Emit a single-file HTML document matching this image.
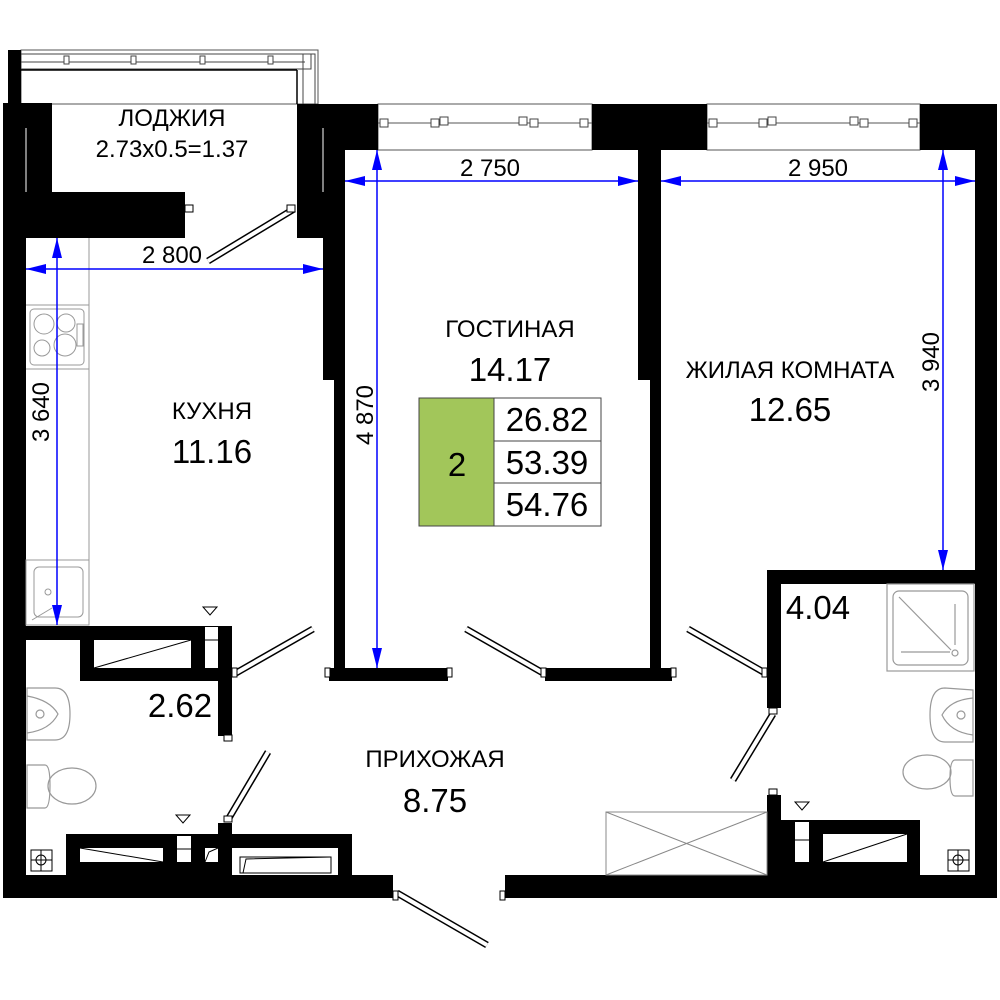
<!DOCTYPE html>
<html><head><meta charset="utf-8"><style>
html,body{margin:0;padding:0;background:#fff;}
svg{display:block;}
text{font-family:"Liberation Sans",sans-serif;fill:#000;}
</style></head><body>
<svg width="1000" height="1000" viewBox="0 0 1000 1000" xmlns="http://www.w3.org/2000/svg">
<defs>
<marker id="ar" viewBox="0 0 20 10" refX="20" refY="5" markerWidth="20" markerHeight="10" markerUnits="userSpaceOnUse" orient="auto-start-reverse"><path d="M0,0 L20,5 L0,10 z" fill="#0000ff"/></marker>
</defs>
<rect width="1000" height="1000" fill="#fff"/>

<!-- loggia frame -->
<rect x="21" y="50" width="297" height="54" fill="none" stroke="#555" stroke-width="1"/>
<rect x="21" y="54" width="290" height="15" fill="none" stroke="#444" stroke-width="1"/>
<line x1="21" y1="62" x2="305" y2="62" stroke="#444"/>
<rect x="303" y="54" width="12" height="50" fill="none" stroke="#444"/>
<line x1="21" y1="70" x2="297" y2="70" stroke="#000" stroke-width="1.5"/>
<line x1="297" y1="70" x2="297" y2="104" stroke="#000" stroke-width="1.5"/>
<g fill="#fff" stroke="#444"><rect x="64" y="56" width="5" height="8"/><rect x="131" y="56" width="5" height="8"/><rect x="200" y="56" width="5" height="8"/><rect x="268" y="56" width="5" height="8"/></g>
<rect x="8" y="50" width="13" height="54" fill="#000"/>

<!-- windows -->
<g stroke="#555" fill="none">
<rect x="378" y="104" width="214" height="46"/>
<rect x="707" y="104" width="213" height="46"/>
<line x1="378" y1="123" x2="592" y2="123"/>
<line x1="707" y1="123" x2="920" y2="123"/>
</g>
<g fill="#fff" stroke="#444">
<rect x="380" y="119" width="8" height="8"/><rect x="431" y="119" width="8" height="8"/><rect x="440" y="117" width="8" height="8"/><rect x="519" y="117" width="8" height="8"/><rect x="530" y="119" width="8" height="8"/><rect x="580" y="119" width="8" height="8"/>
<rect x="709" y="119" width="8" height="8"/><rect x="759" y="119" width="8" height="8"/><rect x="768" y="117" width="8" height="8"/><rect x="850" y="117" width="8" height="8"/><rect x="860" y="119" width="8" height="8"/><rect x="909" y="119" width="8" height="8"/>
</g>

<!-- walls -->
<g fill="#000">
<rect x="3" y="103" width="49" height="90"/>
<rect x="3" y="192" width="182" height="46"/>
<rect x="3" y="192" width="23" height="706"/>
<rect x="297" y="104" width="81" height="46"/>
<rect x="297" y="104" width="26" height="134"/>
<rect x="323" y="104" width="22" height="276"/>
<rect x="334" y="380" width="11" height="290"/>
<rect x="329" y="668" width="119" height="13"/>
<rect x="592" y="104" width="115" height="46"/>
<rect x="638" y="104" width="23" height="276"/>
<rect x="650" y="380" width="11" height="290"/>
<rect x="545" y="668" width="127" height="13"/>
<rect x="920" y="104" width="77" height="46"/>
<rect x="975" y="104" width="22" height="794"/>
<rect x="767" y="570" width="208" height="14"/>
<rect x="767" y="570" width="14" height="138"/>
<rect x="767" y="795" width="14" height="80"/>
<rect x="781" y="820" width="139" height="55"/>
<rect x="505" y="875" width="492" height="23"/>
<rect x="3" y="875" width="390" height="23"/>
<rect x="66" y="834" width="286" height="41"/>
<rect x="218" y="823" width="14" height="12"/>
<rect x="26" y="626" width="206" height="14"/>
<rect x="80" y="640" width="152" height="41"/>
<rect x="218" y="626" width="14" height="110"/>
</g>
<line x1="26" y1="128" x2="26" y2="192" stroke="#fff" stroke-width="1"/>
<line x1="323" y1="128" x2="323" y2="192" stroke="#fff" stroke-width="1"/>

<g fill="#fff">
<rect x="94" y="640" width="97" height="28"/>
<rect x="205" y="627" width="13" height="41"/>
<rect x="80" y="848" width="83" height="14"/>
<rect x="177" y="836" width="14" height="26"/>
<rect x="205" y="848" width="13" height="14"/>
<rect x="232" y="848" width="106" height="27"/>
<rect x="823" y="834" width="84" height="28"/>
<rect x="795" y="822" width="14" height="40"/>
</g>
<g stroke="#000" fill="none" stroke-width="1">
<line x1="94" y1="668" x2="191" y2="640"/>
<line x1="205" y1="640" x2="218" y2="640"/>
<line x1="80" y1="848" x2="163" y2="862"/>
<line x1="177" y1="849" x2="191" y2="849"/>
<path d="M205,862 L209,852 L218,848"/>
<rect x="240" y="857" width="91" height="16"/>
<path d="M243,873 L246,859 L331,857"/>
<line x1="823" y1="862" x2="907" y2="834"/>
<line x1="795" y1="840" x2="809" y2="840"/>
</g>

<!-- kitchen counter -->
<g stroke="#999" fill="none" stroke-width="1">
<line x1="89" y1="238" x2="89" y2="625"/>
<line x1="26" y1="305" x2="89" y2="305"/>
<line x1="26" y1="369" x2="89" y2="369"/>
<rect x="30" y="309" width="54" height="56" rx="4"/>
<circle cx="44" cy="324" r="10"/><circle cx="66" cy="323" r="9"/>
<circle cx="42" cy="348" r="8"/><circle cx="65" cy="345" r="11"/>
<rect x="77" y="324" width="6" height="22"/>
<rect x="26" y="560" width="63" height="65"/>
<rect x="34" y="567" width="49" height="50" rx="5"/>
<circle cx="48" cy="592" r="3"/>
<line x1="32" y1="620" x2="52" y2="608"/>
</g>

<!-- bathroom fixtures -->
<g stroke="#999" fill="none" stroke-width="1.2">
<rect x="887" y="584" width="87" height="87"/>
<rect x="893" y="591" width="75" height="74" rx="6"/>
<line x1="899" y1="597" x2="951" y2="650"/>
<line x1="901" y1="652" x2="950" y2="652"/>
<line x1="955" y1="604" x2="955" y2="645"/>
<circle cx="955" cy="653" r="3"/>
<path d="M973,690 L945,688 Q930,688 930,715 Q930,742 945,742 L973,742 Z"/>
<path d="M973,698 Q950,700 942,715 Q950,732 973,735"/>
<circle cx="961" cy="715" r="4"/>
<path d="M973,760 L955,760 Q950,760 950,778 Q950,796 955,796 L973,796 Z"/>
<ellipse cx="927" cy="772" rx="24" ry="17"/>
<path d="M27,688 L55,688 Q70,688 70,714 Q70,740 55,740 L27,740 Z"/>
<path d="M27,696 Q50,700 58,714 Q50,730 27,733"/>
<circle cx="40" cy="714" r="4"/>
<path d="M27,765 L45,765 Q50,765 50,785 Q50,808 45,808 L27,808 Z"/>
<ellipse cx="72" cy="786" rx="24" ry="18"/>
</g>
<g stroke="#000" fill="none" stroke-width="1">
<rect x="31" y="850" width="21" height="21"/><circle cx="41" cy="860" r="5"/>
<line x1="31" y1="860" x2="52" y2="860"/><line x1="41" y1="850" x2="41" y2="871"/>
<rect x="948" y="850" width="21" height="21"/><circle cx="958" cy="860" r="5"/>
<line x1="948" y1="860" x2="969" y2="860"/><line x1="958" y1="850" x2="958" y2="871"/>
<path d="M203,607 L217,607 L210,615 Z"/>
<path d="M176,815 L190,815 L183,823 Z"/>
<path d="M795,802 L809,802 L802,810 Z"/>
</g>

<g stroke="#888" fill="none" stroke-width="1">
<rect x="606" y="812" width="161" height="63"/>
<line x1="606" y1="812" x2="767" y2="875"/>
<line x1="606" y1="875" x2="767" y2="812"/>
</g>

<!-- doors -->
<g stroke="#000" stroke-width="7" stroke-linecap="butt">
<line x1="294" y1="209" x2="208" y2="261"/>
<line x1="236" y1="673" x2="313" y2="629"/>
<line x1="543" y1="673" x2="466" y2="629"/>
<line x1="765" y1="673" x2="688" y2="629"/>
<line x1="773" y1="714" x2="733" y2="780"/>
<line x1="229" y1="818" x2="268" y2="752"/>
<line x1="397" y1="893" x2="487" y2="945"/>
</g>
<g stroke="#fff" stroke-width="4" stroke-linecap="butt">
<line x1="294" y1="209" x2="208" y2="261"/>
<line x1="236" y1="673" x2="313" y2="629"/>
<line x1="543" y1="673" x2="466" y2="629"/>
<line x1="765" y1="673" x2="688" y2="629"/>
<line x1="773" y1="714" x2="733" y2="780"/>
<line x1="229" y1="818" x2="268" y2="752"/>
<line x1="397" y1="893" x2="487" y2="945"/>
</g>
<g fill="#fff" stroke="#000" stroke-width="1">
<rect x="287" y="205" width="8" height="7"/><rect x="185" y="205" width="8" height="7"/>
<rect x="232" y="668" width="5" height="9"/><rect x="325" y="668" width="5" height="9"/>
<rect x="447" y="668" width="5" height="9"/><rect x="541" y="668" width="5" height="9"/>
<rect x="671" y="668" width="5" height="9"/><rect x="762" y="668" width="5" height="9"/>
<rect x="769" y="708" width="8" height="6"/><rect x="769" y="789" width="8" height="6"/>
<rect x="224" y="816" width="8" height="6"/><rect x="224" y="735" width="8" height="6"/>
<rect x="393" y="891" width="5" height="9"/><rect x="500" y="891" width="5" height="9"/>
</g>

<!-- dimension lines -->
<g stroke="#0000ff" stroke-width="1.5" fill="none">
<line x1="26" y1="269" x2="323" y2="269" marker-start="url(#ar)" marker-end="url(#ar)"/>
<line x1="57" y1="238" x2="57" y2="625" marker-start="url(#ar)" marker-end="url(#ar)"/>
<line x1="345" y1="181" x2="638" y2="181" marker-start="url(#ar)" marker-end="url(#ar)"/>
<line x1="377" y1="150" x2="377" y2="668" marker-start="url(#ar)" marker-end="url(#ar)"/>
<line x1="661" y1="181" x2="975" y2="181" marker-start="url(#ar)" marker-end="url(#ar)"/>
<line x1="943" y1="150" x2="943" y2="570" marker-start="url(#ar)" marker-end="url(#ar)"/>
</g>
<g font-size="24" text-anchor="middle">
<text x="172" y="263">2 800</text>
<text x="490" y="176">2 750</text>
<text x="818" y="176">2 950</text>
<text transform="translate(49,412) rotate(-90)">3 640</text>
<text transform="translate(373,415) rotate(-90)">4 870</text>
<text transform="translate(939,362) rotate(-90)">3 940</text>
</g>

<g text-anchor="middle">
<text x="172" y="126" font-size="24">ЛОДЖИЯ</text>
<text x="172" y="157" font-size="24">2.73x0.5=1.37</text>
<text x="212" y="419" font-size="24">КУХНЯ</text>
<text x="212" y="463" font-size="33">11.16</text>
<text x="510" y="337" font-size="24">ГОСТИНАЯ</text>
<text x="510" y="381" font-size="33">14.17</text>
<text x="790" y="378" font-size="24">ЖИЛАЯ КОМНАТА</text>
<text x="790" y="421" font-size="33">12.65</text>
<text x="435" y="767" font-size="24">ПРИХОЖАЯ</text>
<text x="435" y="812" font-size="33">8.75</text>
<text x="180" y="717" font-size="33">2.62</text>
<text x="818" y="619" font-size="33">4.04</text>
</g>

<rect x="419" y="398" width="75" height="128" fill="#a2c65a" stroke="#444"/>
<g fill="#fff" stroke="#444">
<rect x="494" y="398" width="107" height="43"/>
<rect x="494" y="441" width="107" height="42"/>
<rect x="494" y="483" width="107" height="43"/>
</g>
<g text-anchor="middle" font-size="33">
<text x="457" y="476">2</text>
<text x="547" y="431">26.82</text>
<text x="547" y="474">53.39</text>
<text x="547" y="516">54.76</text>
</g>
</svg>
</body></html>
